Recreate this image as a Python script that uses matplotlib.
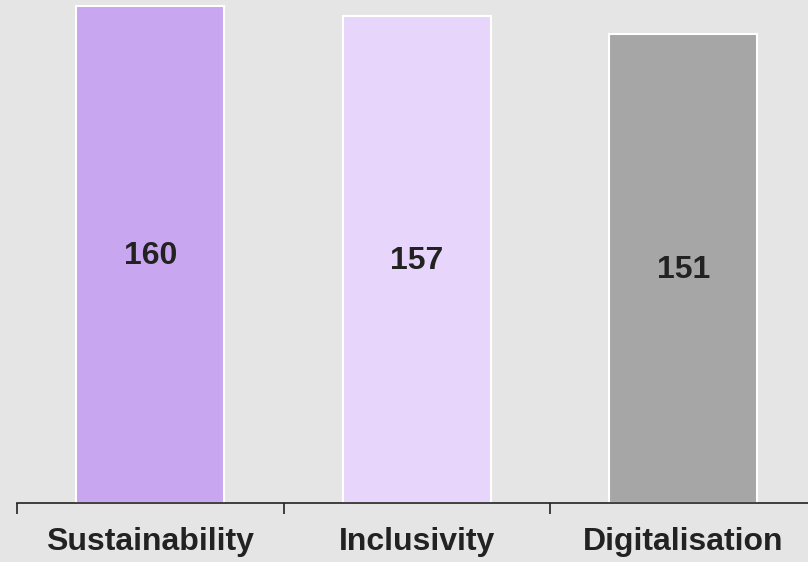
import matplotlib
matplotlib.use("Agg")
import matplotlib.pyplot as plt

categories = ["Sustainability", "Inclusivity", "Digitalisation"]
values = [160, 157, 151]
colors = ["#c8a6f0", "#e8d5fb", "#a6a6a6"]

plt.rcParams['font.family'] = ['Liberation Sans', 'DejaVu Sans']

W, H = 808, 562
fig = plt.figure(figsize=(W / 100, H / 100), dpi=100)
fig.patch.set_facecolor("#e5e5e5")
left = 17 / W
bottom = (H - 503) / H
width = 799.5 / W
height = 503 / H
ax = fig.add_axes([left, bottom, width, height])
ax.set_facecolor("#e5e5e5")

x = list(range(len(categories)))
bars = ax.bar(x, values, width=0.555, color=colors, edgecolor="white", linewidth=1.5, zorder=2)
for xi, v in zip(x, values):
    ax.text(xi, v / 2 - 0.6, str(v), ha="center", va="center", fontsize=23,
            fontweight="bold", color="#222222", zorder=3)

ax.set_xlim(-0.5, len(categories) - 0.5)
ax.set_ylim(0, 162)
for s in ["top", "right", "left"]:
    ax.spines[s].set_visible(False)
ax.spines["bottom"].set_color("#222222")
ax.spines["bottom"].set_linewidth(1.2)
ax.set_yticks([])
ax.set_xticks([i - 0.5 for i in range(len(categories) + 1)])
ax.set_xticklabels([])
ax.tick_params(axis="x", which="major", length=8, width=1.2, color="#222222", direction="out")
ax.set_xticks(x, minor=True)
ax.set_xticklabels(categories, minor=True, fontsize=23, fontweight="bold", color="#222222")
ax.tick_params(axis="x", which="minor", length=0, pad=17)

fig.savefig("out.png", dpi=100, facecolor=fig.get_facecolor())
